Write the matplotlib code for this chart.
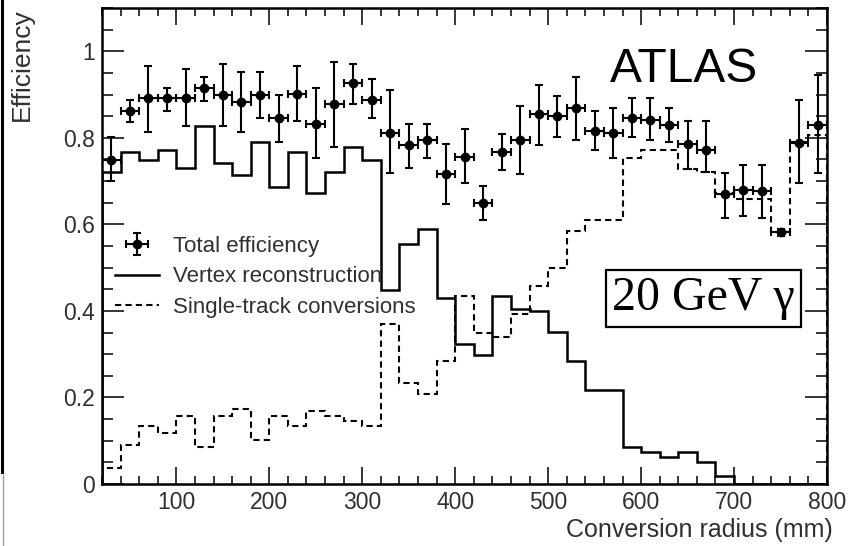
import numpy as np
import matplotlib
matplotlib.use('Agg')
import matplotlib.pyplot as plt
from matplotlib.lines import Line2D
from matplotlib.ticker import MultipleLocator, FuncFormatter

# conversion radius bins (mm), 20 mm wide from 20 to 800
radius_edges = list(range(20, 801, 20))

# total efficiency (points with errors)
total_eff = [0.749, 0.861, 0.891, 0.891, 0.893, 0.916, 0.899, 0.883, 0.899, 0.845,
             0.901, 0.833, 0.877, 0.927, 0.887, 0.811, 0.784, 0.796, 0.717, 0.756,
             0.649, 0.767, 0.794, 0.854, 0.851, 0.869, 0.816, 0.812, 0.846, 0.842,
             0.830, 0.785, 0.773, 0.671, 0.680, 0.678, 0.582, 0.787, 0.829]
total_err_up = [0.054, 0.026, 0.074, 0.025, 0.065, 0.024, 0.071, 0.070, 0.052, 0.054,
                0.064, 0.083, 0.099, 0.043, 0.048, 0.099, 0.047, 0.035, 0.068, 0.064,
                0.039, 0.041, 0.080, 0.068, 0.046, 0.071, 0.045, 0.057, 0.047, 0.051,
                0.038, 0.053, 0.065, 0.048, 0.058, 0.060, 0.008, 0.100, 0.116]
total_err_dn = [0.048, 0.024, 0.077, 0.030, 0.066, 0.031, 0.072, 0.069, 0.054, 0.055,
                0.063, 0.079, 0.098, 0.048, 0.042, 0.092, 0.054, 0.042, 0.070, 0.061,
                0.040, 0.042, 0.077, 0.070, 0.049, 0.073, 0.045, 0.058, 0.044, 0.046,
                0.040, 0.056, 0.052, 0.057, 0.060, 0.064, 0.008, 0.092, 0.110]

# vertex reconstruction (solid histogram)
vertex_eff = [0.721, 0.767, 0.748, 0.773, 0.730, 0.827, 0.742, 0.713, 0.790, 0.687,
              0.767, 0.672, 0.721, 0.779, 0.748, 0.448, 0.555, 0.589, 0.429, 0.323,
              0.298, 0.435, 0.405, 0.400, 0.351, 0.284, 0.217, 0.217, 0.085, 0.075,
              0.062, 0.075, 0.050, 0.019, 0.0, 0.0, 0.0, 0.0, 0.0]

# single-track conversions (dashed histogram)
single_eff = [0.036, 0.090, 0.133, 0.117, 0.157, 0.086, 0.156, 0.174, 0.102, 0.156,
              0.133, 0.169, 0.156, 0.145, 0.133, 0.369, 0.234, 0.208, 0.285, 0.435,
              0.350, 0.340, 0.394, 0.458, 0.500, 0.585, 0.609, 0.609, 0.753, 0.773,
              0.773, 0.729, 0.721, 0.672, 0.659, 0.659, 0.582, 0.790, 0.806]

edges = np.array(radius_edges, dtype=float)
centers = 0.5 * (edges[:-1] + edges[1:])
half_w = 0.5 * np.diff(edges)

plt.rcParams['font.family'] = ['Liberation Sans', 'DejaVu Sans']
txt_col = '#303030'

fig = plt.figure(figsize=(8.58, 5.46), dpi=100)
ax = fig.add_axes([102/858, 1 - 484/546, 725/858, 476/546])

ax.stairs(vertex_eff, edges, color='black', lw=1.8, label='Vertex reconstruction')
ax.stairs(single_eff, edges, color='black', lw=1.5, linestyle=(0, (3, 2)),
          label='Single-track conversions')
ax.errorbar(centers, total_eff, xerr=half_w, yerr=[total_err_dn, total_err_up],
            fmt='o', color='black', ms=6, elinewidth=1.5, capsize=3, capthick=1.5,
            label='Total efficiency', zorder=5)

ax.set_xlim(20, 800)
ax.set_ylim(0, 1.1)

# ROOT style ticks, inward on all sides
ax.xaxis.set_major_locator(MultipleLocator(100))
ax.xaxis.set_minor_locator(MultipleLocator(20))
ax.yaxis.set_major_locator(MultipleLocator(0.2))
ax.yaxis.set_minor_locator(MultipleLocator(0.05))
ax.yaxis.set_major_formatter(FuncFormatter(lambda v, p: f'{v:g}'))
ax.tick_params(axis='both', which='both', direction='in', top=True, right=True,
               labelsize=16.5, labelcolor=txt_col, width=1.1)
ax.tick_params(axis='x', which='major', length=12, pad=5)
ax.tick_params(axis='x', which='minor', length=6)
ax.tick_params(axis='y', which='major', length=16, pad=5)
ax.tick_params(axis='y', which='minor', length=8)
for s in ax.spines.values():
    s.set_linewidth(1.8)

fig.text(22/858, 1 - 8/546, 'Efficiency', rotation=90, ha='center', va='top',
         fontsize=19, color=txt_col)
fig.text(833/858, 1 - 518/546, 'Conversion radius (mm)', ha='right', va='top',
         fontsize=18, color=txt_col)

handles, labels = ax.get_legend_handles_labels()
order = [labels.index('Total efficiency'), labels.index('Vertex reconstruction'),
         labels.index('Single-track conversions')]
ax.legend([handles[i] for i in order], [labels[i] for i in order],
          loc='upper left', bbox_to_anchor=(0.018, 0.521), frameon=False,
          fontsize=16, handlelength=2.0, handletextpad=0.6, labelspacing=0.42,
          borderpad=0, borderaxespad=0, labelcolor=txt_col)

ax.text(566, 0.930, 'ATLAS', fontsize=34.5, ha='left', va='baseline', color='black')
ax.text(667, 0.429, '20 GeV \u03b3', fontsize=34.5, family='Liberation Serif',
        ha='center', va='center', color='black',
        bbox=dict(boxstyle='square,pad=0.13', fc='white', ec='black', lw=1.6))

# stray edge lines present in the source image
fig.add_artist(Line2D([1.5/858, 1.5/858], [1, 1 - 472/546], color='black', lw=2.2))
fig.add_artist(Line2D([2.5/858, 2.5/858], [1 - 475/546, 0], color='#9f98c0', lw=1.0))

fig.savefig('out.png', dpi=100)
